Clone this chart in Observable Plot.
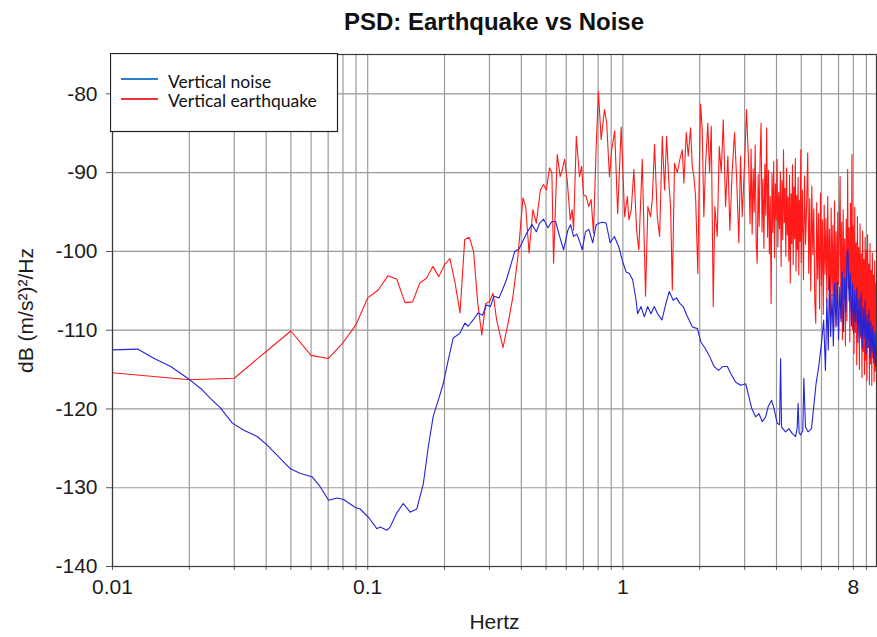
<!DOCTYPE html>
<html><head><meta charset="utf-8">
<script src="https://cdn.jsdelivr.net/npm/d3@7"></script>
<script src="https://cdn.jsdelivr.net/npm/@observablehq/plot@0.6"></script>
<style>
body{margin:0;background:#fff;}
#wrap{position:relative;width:877px;height:637px;font-family:"Liberation Sans",Arial,sans-serif;}
#title{position:absolute;left:112px;width:764px;top:10px;line-height:24px;text-align:center;font-weight:bold;font-size:24px;color:#111;}
#legend{position:absolute;left:110px;top:53px;}
</style></head><body>
<div id="wrap">
<div id="chart"></div>
<div id="title">PSD: Earthquake vs Noise</div>
<svg id="legend" width="229" height="80">
  <rect x="0.5" y="0.5" width="227" height="78" fill="#fff" stroke="#222" stroke-width="1.2"></rect>
  <line x1="11" x2="48" y1="26" y2="26" stroke="#2a7fd0" stroke-width="2.2"></line>
  <line x1="11" x2="48" y1="46" y2="46" stroke="#ee3338" stroke-width="2.2"></line>
  <text x="58" y="34.5" font-family="Lato, 'Open Sans', sans-serif" font-size="17.5" fill="#111">Vertical noise</text>
  <text x="58" y="54" font-family="Lato, 'Open Sans', sans-serif" font-size="17.5" fill="#111">Vertical earthquake</text>
</svg>
</div>
<script>
// ---- Data ----
const noiseHz = [
  0.01,0.01254,0.01457,0.01692,0.02008,0.02216,0.02425,0.02653,0.02948,0.03271,
  0.03691,0.0404,0.0455,0.04981,0.0545,0.06053,0.06523,0.07028,0.0758,0.08044,
  0.08939,0.09348,0.1016,0.1086,0.1119,0.1189,0.1224,0.13,0.1379,0.1466,
  0.1557,0.1652,0.1728,0.1807,0.189,0.1977,0.2068,0.2163,0.2298,0.2404,
  0.2476,0.259,0.2709,0.2818,0.2921,0.3029,0.3119,0.3272,0.339,0.3497,
  0.3625,0.3769,0.3918,0.421,0.4404,0.458,0.4719,0.4893,0.5086,0.5272,
  0.545,0.5649,0.5856,0.6087,0.6236,0.6407,0.66,0.6763,0.6929,0.7138,
  0.7353,0.7621,0.7856,0.8093,0.8339,0.8598,0.8913,0.9265,0.963,0.9982,
  1.0292,1.0602,1.0923,1.1262,1.1425,1.178,1.2134,1.25,1.2888,1.3274,
  1.3675,1.4228,1.475,1.5192,1.575,1.6225,1.6726,1.7231,1.791,1.8735,
  1.9596,2.0207,2.1003,2.1771,2.2771,2.367,2.4696,2.567,2.6468,2.7684,
  2.8956,3.0287,3.1197,3.1967,3.3137,3.4136,3.5165,3.6258,3.7111,3.8264,
  3.9065,4.0243,4.1124,4.1495,4.1869,4.3401,4.4708,4.6057,4.7488,4.8173,
  4.8608,4.9046,4.9668,5.0707,5.1165,5.1951,5.3186,5.4838,5.5976,5.7148,
  5.8557,5.9991,6.12,6.22,6.30,6.38,6.45,6.52,6.60,6.68,
  6.76,6.84,6.92,7.00,7.08,7.16,7.24,7.32,7.40,7.48,
  7.56,7.62,7.70,7.78,7.86,7.94,8.02,8.10,8.18,8.26,
  8.34,8.42,8.50,8.58,8.66,8.74,8.82,8.90,8.98,9.06,
  9.14,9.22,9.30,9.38,9.46,9.54,9.62,9.70,9.78,9.85
];
const noiseDb = [
  -112.5,-112.4,-113.6,-114.6,-116.3,-117.4,-118.7,-119.9,-121.8,-122.7,
  -123.5,-124.6,-126.3,-127.6,-128.2,-128.6,-129.9,-131.6,-131.3,-131.5,
  -132.5,-132.7,-133.9,-135.2,-135.0,-135.4,-135.0,-133.2,-132.0,-133.1,
  -132.7,-129.5,-124.8,-120.9,-118.9,-116.8,-113.8,-111.0,-110.4,-109.1,
  -109.5,-108.7,-107.8,-108.1,-106.8,-107.0,-105.7,-105.9,-104.7,-103.6,
  -101.9,-100.0,-99.7,-97.6,-96.6,-97.5,-96.4,-95.9,-97.0,-96.2,
  -96.2,-98.1,-99.8,-97.3,-96.6,-98.1,-97.8,-98.7,-99.8,-97.5,
  -97.2,-98.9,-96.6,-96.4,-96.3,-96.4,-98.9,-98.1,-99.4,-101.3,
  -102.6,-102.8,-103.6,-106.2,-107.9,-107.0,-108.3,-107.0,-107.9,-107.0,
  -107.9,-108.7,-106.6,-105.1,-106.2,-105.9,-106.6,-107.0,-108.3,-109.6,
  -109.8,-111.5,-112.3,-113.2,-114.6,-115.1,-114.6,-114.6,-115.5,-116.6,
  -117.0,-116.8,-118.5,-119.9,-121.0,-120.6,-121.6,-121.0,-119.7,-118.9,
  -119.9,-121.8,-122.0,-113.6,-122.3,-122.9,-122.5,-123.1,-123.5,-122.5,
  -119.3,-123.0,-123.3,-122.8,-116.1,-122.3,-122.9,-122.5,-119.7,-116.8,
  -114.6,-111.7,-108.7,-115.1,-106.0,-112.5,-103.2,-110.8,-105.5,-112.0,
  -104.0,-109.6,-103.8,-111.2,-104.5,-108.9,-102.6,-110.2,-103.4,-107.7,
  -100.2,-99.8,-106.3,-102.8,-109.5,-104.1,-110.4,-105.0,-109.0,-104.6,
  -111.6,-106.0,-110.7,-105.3,-112.3,-107.1,-111.0,-106.2,-113.0,-108.0,
  -112.1,-107.4,-113.6,-108.9,-112.8,-109.5,-114.2,-110.3,-114.6,-111.5
];
const quakeHz = [
  0.01,0.02,0.03,0.04,0.05,0.06,0.07,0.08,0.09,0.10,
  0.11,0.12,0.13,0.14,0.15,0.16,0.17,0.18,0.19,0.20,
  0.21,0.22,0.23,0.24,0.25,0.26,0.27,0.28,0.29,0.30,
  0.31,0.32,0.339,0.355,0.371,0.388,0.406,0.416,0.429,0.444,
  0.458,0.475,0.489,0.501,0.516,0.527,0.535,0.553,0.568,0.579,
  0.591,0.605,0.622,0.633,0.641,0.657,0.676,0.689,0.701,0.718,
  0.735,0.751,0.767,0.786,0.802,0.822,0.847,0.864,0.886,0.904,
  0.929,0.954,0.985,1.016,1.041,1.056,1.079,1.104,1.132,1.155,
  1.191,1.227,1.253,1.284,1.304,1.331,1.364,1.393,1.427,1.457,
  1.484,1.515,1.538,1.562,1.594,1.634,1.673,1.709,1.734,1.772,
  1.804,1.842,1.870,1.898,1.927,1.967,1.993,2.016,2.046,2.076,
  2.108,2.152,2.186,2.220,2.260,2.293,2.343,2.386,2.429,2.474,
  2.526,2.579,2.625,2.683,2.739,2.789,2.848,2.891,2.936,2.997,
  3.052,3.116,
  3.15,3.18,3.21,3.24,3.27,3.30,3.33,3.36,3.39,3.42,
  3.45,3.48,3.51,3.54,3.57,3.60,3.63,3.66,3.69,3.72,
  3.75,3.78,3.81,3.84,3.87,3.90,3.93,3.96,3.99,4.02,
  4.05,4.08,4.11,4.14,4.17,4.20,4.23,4.26,4.29,4.32,
  4.35,4.38,4.41,4.44,4.47,4.50,4.53,4.56,4.59,4.62,
  4.65,4.68,4.71,4.74,4.77,4.80,4.83,4.86,4.89,4.92,
  4.95,4.98,
  5.00,5.05,5.10,5.15,5.20,5.25,5.30,5.35,5.40,5.45,
  5.50,5.55,5.60,5.65,5.70,5.75,5.80,5.85,5.90,5.95,
  6.00,6.05,6.10,6.15,6.20,6.25,6.30,6.35,6.40,6.45,
  6.50,6.55,6.60,6.65,6.70,6.75,6.80,6.85,6.90,6.95,
  7.00,7.05,7.10,7.15,7.20,7.25,7.30,7.35,7.40,7.45,
  7.50,7.55,7.60,7.65,7.70,7.75,7.80,7.85,7.90,7.95,
  8.00,8.05,8.10,8.15,8.20,8.25,8.30,8.35,8.40,8.45,
  8.50,8.55,8.60,8.65,8.70,8.75,8.80,8.85,8.90,8.95,
  9.00,9.05,9.10,9.15,9.20,9.25,9.30,9.35,9.40,9.45,
  9.50,9.55,9.60,9.65,9.70,9.75,9.80,9.85
];
const quakeDb = [
  -115.4,-116.3,-116.1,-112.7,-110.1,-113.2,-113.6,-111.6,-109.3,-105.9,
  -104.9,-103.1,-103.5,-106.5,-106.4,-104.0,-103.4,-101.9,-103.2,-101.7,
  -100.9,-104.0,-107.8,-98.5,-98.2,-100.0,-106.6,-110.6,-106.6,-106.4,
  -105.3,-108.7,-112.2,-109.1,-105.7,-100.6,-93.2,-94.3,-100.2,-94.7,
  -96.4,-92.2,-91.5,-92.2,-89.4,-90.0,-101.5,-87.7,-90.5,-89.6,
  -88.3,-90.9,-96.0,-94.7,-97.3,-85.4,-90.5,-89.2,-92.8,-93.0,
  -94.3,-93.4,-97.7,-86.7,-79.7,-85.8,-82.0,-83.7,-90.5,-87.1,
  -84.7,-95.2,-84.2,-95.6,-93.0,-96.0,-94.7,-89.6,-97.3,-99.8,
  -88.3,-105.7,-94.3,-95.6,-93.4,-86.4,-95.6,-98.1,-85.4,-92.2,
  -85.4,-91.3,-94.3,-104.9,-88.8,-90.0,-88.3,-87.1,-91.3,-84.9,
  -87.9,-84.3,-89.2,-90.5,-93.0,-102.8,-89.6,-81.3,-84.5,-95.6,
  -89.2,-83.7,-90.0,-84.1,-107.0,-94.3,-98.1,-86.7,-90.0,-83.3,
  -94.3,-87.9,-97.3,-89.6,-84.9,-90.5,-98.9,-87.9,-95.6,-88.8,
  -82.0,-89.6,
  -96.5,-87.0,-97.8,-89.5,-95.0,-86.5,-99.0,-101.5,-90.2,-96.8,
  -88.0,-83.7,-97.5,-90.8,-99.6,-88.9,-95.4,-84.3,-98.2,-89.7,
  -100.3,-93.0,-106.6,-90.1,-97.6,-88.6,-100.8,-91.4,-96.0,-88.3,
  -99.4,-92.5,-97.1,-89.9,-101.9,-91.0,-98.5,-87.1,-96.3,-92.0,
  -100.6,-89.4,-97.9,-93.1,-101.2,-90.3,-104.0,-92.7,-99.0,-89.0,
  -101.7,-91.8,-98.4,-88.2,-102.5,-92.9,-99.8,-90.6,-103.0,-93.5,
  -98.7,-87.1,
  -101.4,-92.2,-103.6,-90.4,-99.1,-94.0,-87.5,-102.8,-93.3,-105.0,
  -91.7,-100.4,-94.6,-106.2,-109.1,-93.8,-103.5,-95.2,-107.3,-92.6,
  -104.4,-96.0,-108.0,-94.1,-102.9,-95.8,-106.5,-93.0,-104.9,-97.2,
  -109.0,-94.5,-105.6,-96.7,-110.0,-93.6,-106.8,-97.5,-109.4,-95.0,
  -104.2,-98.0,-90.5,-108.5,-96.3,-111.2,-94.7,-106.0,-98.4,-112.0,
  -95.9,-108.8,-89.6,-104.7,-97.0,-111.5,-93.9,-107.6,-87.7,-109.9,
  -96.8,-113.0,-94.4,-110.3,-98.9,-114.4,-95.6,-108.2,-99.5,-115.0,
  -96.5,-111.0,-100.3,-116.0,-97.4,-112.7,-101.0,-115.6,-98.2,-113.8,
  -99.8,-116.4,-97.9,-112.2,-101.6,-116.9,-99.0,-114.3,-102.4,-117.0,
  -100.2,-113.5,-103.0,-116.5,-101.2,-115.2,-104.0,-112.0
];
const gridHz = [0.01,0.02,0.03,0.04,0.05,0.06,0.07,0.08,0.09,
  0.1,0.2,0.3,0.4,0.5,0.6,0.7,0.8,0.9,1,2,3,4,5,6,7,8,9];
const labelHz = [0.01, 0.1, 1, 8];
const labelText = ["0.01", "0.1", "1", "8"];
const dbTicks = [-140,-130,-120,-110,-100,-90,-80];

const noise = noiseHz.map((f, i) => ({f, db: noiseDb[i]}));
const quake = quakeHz.map((f, i) => ({f, db: quakeDb[i]}));
const xLabels = labelHz.map((f, i) => ({f, t: labelText[i]}));
if (noiseHz.length !== noiseDb.length || quakeHz.length !== quakeDb.length) console.warn("length mismatch");

const gridStyle = {stroke: "#9a9a9a", strokeOpacity: 1, strokeWidth: 1.2};
const chart = Plot.plot({
  width: 877, height: 637,
  marginLeft: 112, marginRight: 1, marginTop: 54, marginBottom: 71,
  style: {fontFamily: "'Liberation Sans', Arial, sans-serif", fontSize: "21px", color: "#1c1c1c", background: "#fff"},
  x: {type: "log", domain: [0.01, 9.86]},
  y: {domain: [-140, -75]},
  marks: [
    Plot.gridX(gridHz, gridStyle),
    Plot.gridY(dbTicks, gridStyle),
    Plot.line(quake, {x: "f", y: "db", stroke: "#ff1a1a", strokeWidth: 1.1, clip: true}),
    Plot.line(noise, {x: "f", y: "db", stroke: "#2323d8", strokeWidth: 1.1, clip: true}),
    Plot.axisX(gridHz, {tickSize: 4, tickFormat: () => "", stroke: "#666",
      label: "Hertz", labelAnchor: "center", labelOffset: 62, labelArrow: "none"}),
    Plot.text(xLabels, {x: "f", text: "t", frameAnchor: "bottom", dy: 27, fontSize: 21, fill: "#1c1c1c"}),
    Plot.axisY(dbTicks, {tickSize: 6, tickPadding: 9, tickFormat: d => String(d), fontSize: 21,
      label: "dB (m/s²)²/Hz", labelAnchor: "center", labelOffset: 94, labelArrow: "none", stroke: "#555"}),
    Plot.frame({stroke: "#3a3a3a", strokeWidth: 1.2})
  ]
});
document.getElementById("chart").appendChild(chart);
</script>
</body></html>
